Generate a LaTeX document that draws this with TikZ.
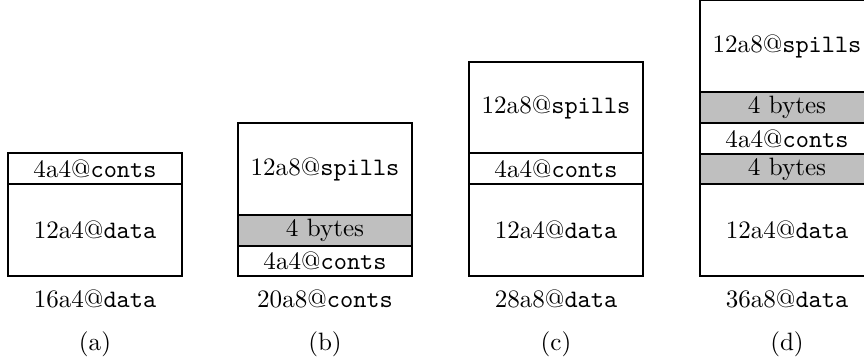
\documentclass[tikz,border=0pt]{standalone}
\begin{document}
\begin{tikzpicture}[x=0.3984pt,y=-0.3984pt,
  cell/.style={draw=black,line width=0.5pt},
  pad/.style={cell,fill=black!25},
  lbl/.style={inner sep=0pt,font=\normalsize}]
\useasboundingbox (0,0) rectangle (864,362);
\clip (0,0) rectangle (864,362);
% (a)
\draw[cell] (8,153) rectangle (182,184) node[midway,lbl] (a1) {4a4@\texttt{conts}};
\draw[cell] (8,184) rectangle (182,276) node[midway,lbl] (a2) {12a4@\texttt{data}};
\node[lbl] (a3) at (95,299) {16a4@\texttt{data}};
\node[lbl] (a4) at (95,344) {(a)};
% (b)
\draw[cell] (238,123) rectangle (412,215) node[midway,lbl] (b1) {12a8@\texttt{spills}};
\draw[pad] (238,215) rectangle (412,246) node[midway,lbl] (b2) {4 bytes};
\draw[cell] (238,246) rectangle (412,276) node[midway,lbl] (b3) {4a4@\texttt{conts}};
\node[lbl] (b4) at (325,299) {20a8@\texttt{conts}};
\node[lbl] (b5) at (325,344) {(b)};
% (c)
\draw[cell] (469,62) rectangle (643,153) node[midway,lbl] (c1) {12a8@\texttt{spills}};
\draw[cell] (469,153) rectangle (643,184) node[midway,lbl] (c2) {4a4@\texttt{conts}};
\draw[cell] (469,184) rectangle (643,276) node[midway,lbl] (c3) {12a4@\texttt{data}};
\node[lbl] (c4) at (556,299) {28a8@\texttt{data}};
\node[lbl] (c5) at (556,344) {(c)};
% (d)
\draw[cell] (700,0) rectangle (874,92);
\node[lbl] (d1) at (787,46) {12a8@\texttt{spills}};
\draw[pad] (700,92) rectangle (874,123);
\node[lbl] (d2) at (787,107.5) {4 bytes};
\draw[cell] (700,123) rectangle (874,154);
\node[lbl] (d3) at (787,138.5) {4a4@\texttt{conts}};
\draw[pad] (700,154) rectangle (874,184);
\node[lbl] (d4) at (787,169) {4 bytes};
\draw[cell] (700,184) rectangle (874,276);
\node[lbl] (d5) at (787,230) {12a4@\texttt{data}};
\node[lbl] (d6) at (787,299) {36a8@\texttt{data}};
\node[lbl] (d7) at (787,344) {(d)};
\end{tikzpicture}
\end{document}
